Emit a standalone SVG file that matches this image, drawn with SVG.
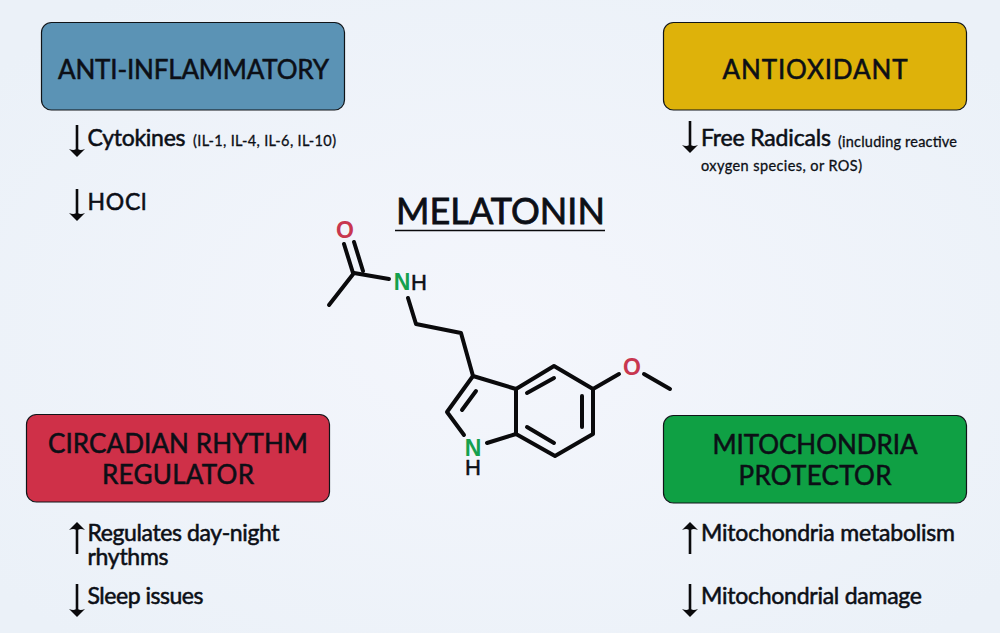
<svg xmlns="http://www.w3.org/2000/svg" width="1000" height="633" viewBox="0 0 1000 633">
<style>
text{font-family:"Lato","Liberation Sans",sans-serif;fill:#0c0f16;stroke:#0c0f16;stroke-width:.55}
.h{font-size:26px;text-anchor:middle}
.b{font-size:23px}
.s{font-size:14.5px;stroke-width:.3}
.box{stroke:#101418;stroke-width:1.2}
.mol line,.mol polyline{stroke:#0a0a0c;stroke-width:4;fill:none;stroke-linecap:round;stroke-linejoin:round}
.arr{stroke:#0a0a0c;stroke-width:2.6;fill:none}
.atom{font-size:23px;font-family:"Liberation Sans",sans-serif;font-weight:700;text-anchor:middle;stroke:none}
.hy{font-size:22px;font-weight:400;stroke:#0c0f16;stroke-width:.5}
</style>
<defs>
<radialGradient id="bg" cx="50%" cy="52%" r="65%"><stop offset="0" stop-color="#f4f6fc"/><stop offset="1" stop-color="#ebf1f8"/></radialGradient>
<marker id="down" viewBox="0 0 16 12" refX="8" refY="7" markerUnits="userSpaceOnUse" markerWidth="16" markerHeight="12" orient="0"><path d="M0 4 Q6 6.5 8 3 Q10 6.5 16 4 L8 12Z" fill="#0a0a0c"/></marker>
<marker id="up" viewBox="0 0 16 12" refX="8" refY="5" markerUnits="userSpaceOnUse" markerWidth="16" markerHeight="12" orient="0"><path d="M0 8 Q6 5.5 8 9 Q10 5.5 16 8 L8 0Z" fill="#0a0a0c"/></marker>
</defs>
<rect width="1000" height="633" fill="url(#bg)"/>
<g id="anti-inflammatory">
<rect class="box" x="41.5" y="22.5" width="303" height="87.5" rx="10" fill="#5b93b5"/>
<text class="h" x="193.5" y="79" textLength="271">ANTI-INFLAMMATORY</text>
<line class="arr" x1="77" y1="125" x2="77" y2="152" marker-end="url(#down)"/>
<text class="b" x="87.5" y="146" textLength="98">Cytokines</text>
<text class="s" x="193" y="146" textLength="143">(IL-1, IL-4, IL-6, IL-10)</text>
<line class="arr" x1="77" y1="189" x2="77" y2="216" marker-end="url(#down)"/>
<text class="b" x="87.5" y="210" textLength="59">HOCl</text>
</g>
<g id="antioxidant">
<rect class="box" x="663.5" y="22.5" width="303" height="87.5" rx="10" fill="#deb20a"/>
<text class="h" x="815" y="79" textLength="185">ANTIOXIDANT</text>
<line class="arr" x1="690" y1="121" x2="690" y2="148" marker-end="url(#down)"/>
<text class="b" x="701" y="146" textLength="130">Free Radicals</text>
<text class="s" x="838" y="147" textLength="119">(including reactive</text>
<text class="s" x="701" y="171" textLength="161">oxygen species, or ROS)</text>
</g>
<g id="circadian-rhythm-regulator">
<rect class="box" x="26.5" y="414.5" width="303" height="87.5" rx="10" fill="#cf3048"/>
<text class="h" x="178" y="452.5" textLength="260">CIRCADIAN RHYTHM</text>
<text class="h" x="178" y="483.5" textLength="152">REGULATOR</text>
<line class="arr" x1="77" y1="554" x2="77" y2="527" marker-end="url(#up)"/>
<text class="b" x="87.5" y="541" textLength="192">Regulates day-night</text>
<text class="b" x="87.5" y="565" textLength="81">rhythms</text>
<line class="arr" x1="77" y1="584" x2="77" y2="612" marker-end="url(#down)"/>
<text class="b" x="87.5" y="604" textLength="116">Sleep issues</text>
</g>
<g id="mitochondria-protector">
<rect class="box" x="663.5" y="415.5" width="303" height="87.5" rx="10" fill="#0fa044"/>
<text class="h" x="815" y="453.5" textLength="205">MITOCHONDRIA</text>
<text class="h" x="815" y="484.5" textLength="153">PROTECTOR</text>
<line class="arr" x1="690" y1="554" x2="690" y2="527" marker-end="url(#up)"/>
<text class="b" x="701" y="541" textLength="254">Mitochondria metabolism</text>
<line class="arr" x1="690" y1="584" x2="690" y2="612" marker-end="url(#down)"/>
<text class="b" x="701" y="604" textLength="221">Mitochondrial damage</text>
</g>
<g id="melatonin">
<text x="396" y="224" font-size="36" textLength="209" style="stroke-width:.8">MELATONIN</text>
<line x1="395" y1="230.5" x2="605" y2="230.5" stroke="#0a0a0c" stroke-width="1.6"/>
<g class="mol">
<line x1="344" y1="244" x2="353" y2="273"/>
<line x1="354" y1="242" x2="363" y2="271"/>
<polyline points="329,305 354,273 389,279"/>
<polyline points="408,298 416,324 461,333 473,376 516,389 554,366 593,389 593,434 555,456 516,434 516,389"/>
<polyline points="473,376 447,412 464,435"/>
<line x1="487" y1="443" x2="516" y2="434"/>
<line x1="462" y1="410" x2="476" y2="391"/>
<line x1="527" y1="393" x2="554" y2="378"/>
<line x1="582" y1="396" x2="582" y2="427"/>
<line x1="527" y1="427" x2="554" y2="443"/>
<line x1="593" y1="389" x2="619" y2="374"/>
<line x1="644" y1="374" x2="670" y2="389"/>
</g>
<text class="atom" x="345" y="238" style="fill:#c8374f">O</text>
<text class="atom" x="402" y="290" style="fill:#15a04e">N</text>
<text class="atom hy" x="419" y="290">H</text>
<text class="atom" x="473" y="456" style="fill:#15a04e">N</text>
<text class="atom hy" x="473" y="475">H</text>
<text class="atom" x="632" y="375" style="fill:#c8374f">O</text>
</g>
</svg>
